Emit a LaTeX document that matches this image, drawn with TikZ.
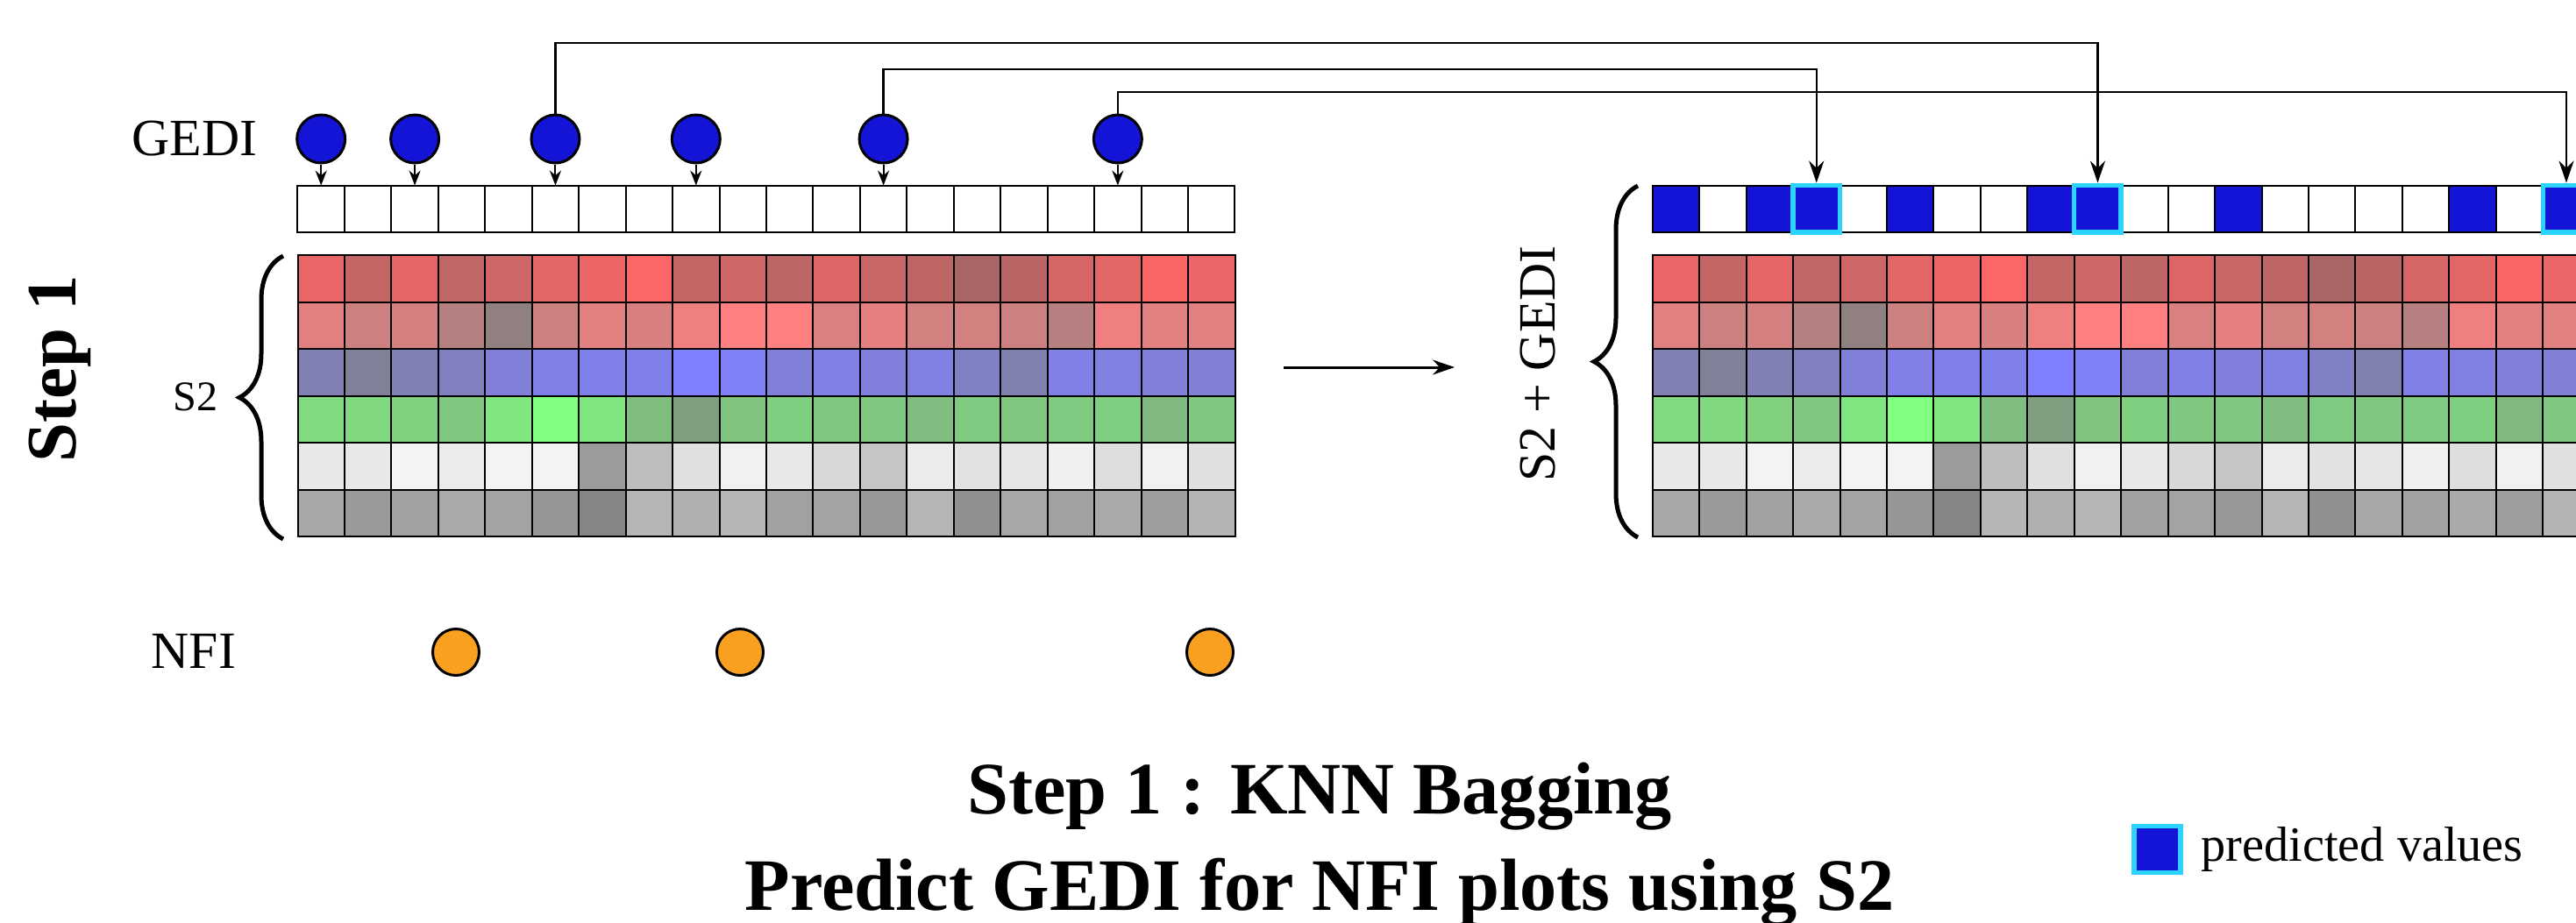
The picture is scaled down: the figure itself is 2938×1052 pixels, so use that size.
\documentclass[tikz,border=0pt]{standalone}
\usepackage{fontspec}
\setmainfont{Liberation Serif}
\usetikzlibrary{arrows.meta,decorations.pathreplacing}
\definecolor{gedi}{RGB}{20,20,215}
\definecolor{nfi}{RGB}{250,160,32}
\definecolor{predline}{RGB}{42,212,255}

\begin{document}
\begin{tikzpicture}[x=0.1mm,y=-0.1mm,
	cell/.style={draw,line width=0.2mm,minimum size=5.345mm,inner sep=0pt,outer sep=0pt},
	gedipt/.style={circle,draw,line width=0.3mm,fill=gedi,minimum size=5.5mm,inner sep=0pt},
	nfipt/.style={circle,draw,line width=0.3mm,fill=nfi,minimum size=5.3mm,inner sep=0pt},
	drop/.style={line width=0.2mm,-{Stealth[length=1.7mm,width=1.3mm]}},
	link/.style={line width=0.25mm,shorten >=0.3mm,-{Stealth[length=2.5mm,width=1.7mm]}},
	predicted/.style={draw=predline,line width=0.55mm},
	curly/.style={decorate,decoration={brace,amplitude=5mm},line width=0.5mm},
	lbl/.style={font=\fontsize{17}{20}\selectfont,inner sep=0pt,anchor=base west}]
	\useasboundingbox (0,0) rectangle (2938,1052);

	\foreach \gx in {339.5,1884.7}{
		\foreach \v [count=\c from 0] in {232,196,228,192,206,226,236,252,196,206,188,220,198,190,168,186,214,226,250,235}{
			\definecolor{cc}{RGB}{\v,102,102}
			\filldraw[fill=cc,line width=0.2mm] (\gx+\c*53.45,291) rectangle ++(53.45,53.5);
		}
		\foreach \v [count=\c from 0] in {224,204,212,180,144,204,226,216,238,255,255,217,230,210,210,204,183,240,226,224}{
			\definecolor{cc}{RGB}{\v,128,128}
			\filldraw[fill=cc,line width=0.2mm] (\gx+\c*53.45,344.5) rectangle ++(53.45,53.5);
		}
		\foreach \v [count=\c from 0] in {180,152,180,192,216,232,234,236,255,247,216,230,220,226,198,176,230,224,216,214}{
			\definecolor{cc}{RGB}{128,128,\v}
			\filldraw[fill=cc,line width=0.2mm] (\gx+\c*53.45,398) rectangle ++(53.45,53.5);
		}
		\foreach \v [count=\c from 0] in {218,216,208,200,230,255,230,190,158,196,206,200,200,189,201,200,201,206,185,200}{
			\definecolor{cc}{RGB}{128,\v,128}
			\filldraw[fill=cc,line width=0.2mm] (\gx+\c*53.45,451.5) rectangle ++(53.45,53.5);
		}
		\foreach \v [count=\c from 0] in {232,232,243,235,243,243,155,190,224,241,232,216,198,235,226,230,240,222,241,224}{
			\definecolor{cc}{RGB}{\v,\v,\v}
			\filldraw[fill=cc,line width=0.2mm] (\gx+\c*53.45,505) rectangle ++(53.45,53.5);
		}
		\foreach \v [count=\c from 0] in {168,154,162,170,164,150,134,182,176,182,161,163,152,181,144,167,162,170,158,180}{
			\definecolor{cc}{RGB}{\v,\v,\v}
			\filldraw[fill=cc,line width=0.2mm] (\gx+\c*53.45,558.5) rectangle ++(53.45,53.5);
		}
	}

	\foreach \c in {0,...,19}{
		\node[cell] (l\c) at (366.2+\c*53.45,238.3) {};
		\node[cell] (r\c) at (1911.4+\c*53.45,238.3) {};
	}
	\foreach \c in {0,2,3,5,8,9,12,17,19}
		\filldraw[fill=gedi,line width=0.2mm] (r\c.south west) rectangle (r\c.north east);
	\foreach \c in {3,9,19}
		\draw[predicted] (r\c.south west) rectangle (r\c.north east);

	\foreach \c [count=\k] in {0,2,5,8,12,17}{
		\node[gedipt] (g\k) at (366.2+\c*53.45,158.5) {};
		\draw[drop] (g\k) -- (l\c);
	}

	\coordinate (h1) at (0,49);
	\coordinate (h2) at (0,79);
	\coordinate (h3) at (0,105);
	\draw[link] (g3) -- (g3 |- h1) -| (r9);
	\draw[link] (g5) -- (g5 |- h2) -| (r3);
	\draw[link] (g6) -- (g6 |- h3) -| (r19);

	\node[nfipt] (n1) at (520,744) {};
	\node[nfipt] (n2) at (844,744) {};
	\node[nfipt] (n3) at (1380,744) {};

	\node[lbl] (gedilbl) at (150,177) {GEDI};
	\node[lbl,font=\fontsize{13.7}{16}\selectfont] (s2lbl) at (197,468) {S2};
	\node[lbl] (nfilbl) at (172,762) {NFI};
	\node[font=\fontsize{23}{27}\selectfont\bfseries,rotate=90,anchor=base,inner sep=0pt] (steplbl) at (86,421) {Step 1};
	\node[font=\fontsize{17}{20}\selectfont,rotate=90,anchor=base,inner sep=0pt] (mixlbl) at (1773,415) {S2 + GEDI};

	\draw[curly] (323,615) -- (323,292);
	\draw[curly] (1868,613) -- (1868,212);

	\coordinate (m1) at (1464,419);
	\coordinate (m2) at (1659,419);
	\draw[line width=0.3mm,-{Stealth[length=2.5mm,width=1.7mm]}] (m1) -- (m2);

	\node[font=\fontsize{24}{29}\selectfont\bfseries,anchor=base,inner sep=0pt] (title1) at (1505,928) {Step 1 : KNN Bagging};
	\node[font=\fontsize{24}{29}\selectfont\bfseries,anchor=base,inner sep=0pt] (title2) at (1505,1038) {Predict GEDI for NFI plots using S2};

	\node[cell,fill=gedi,predicted,minimum size=5.3mm] (predkey) at (2460.5,969) {};
	\node[lbl,font=\fontsize{16}{19}\selectfont] (predlbl) at (2510,982) {predicted values};
\end{tikzpicture}
\end{document}
